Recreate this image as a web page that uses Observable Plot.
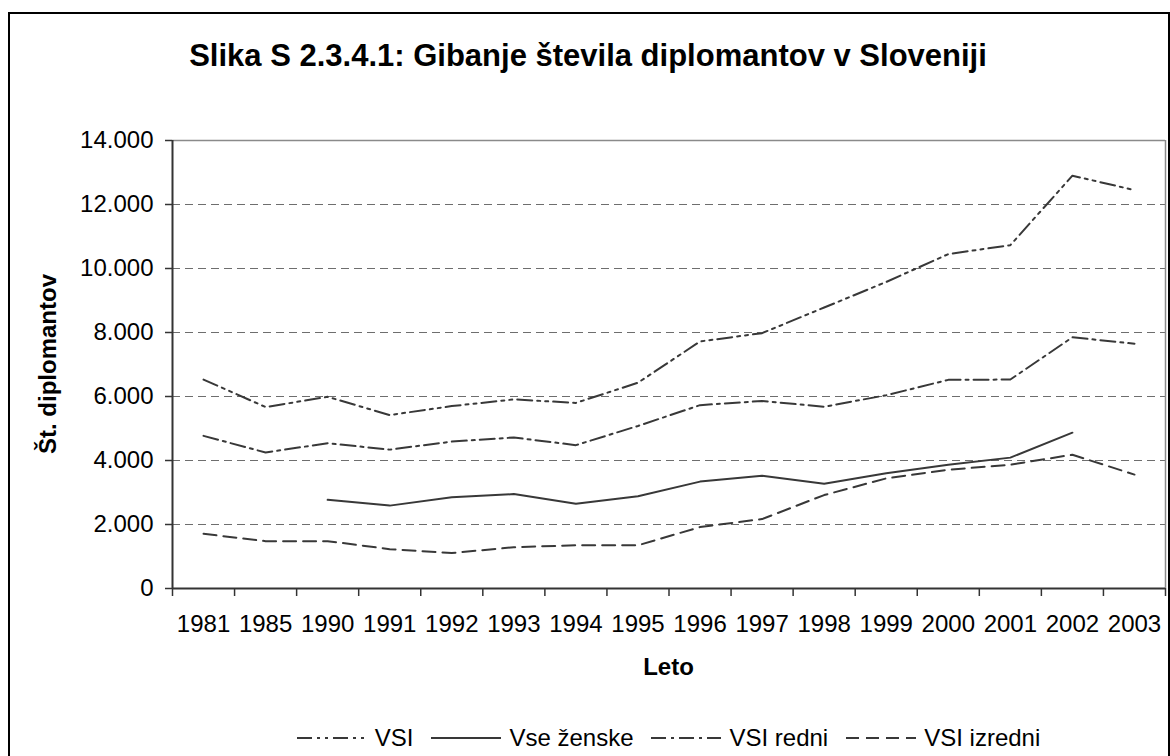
<!DOCTYPE html>
<html>
<head>
<meta charset="utf-8">
<script src="https://cdn.jsdelivr.net/npm/d3@7"></script>
<script src="https://cdn.jsdelivr.net/npm/@observablehq/plot@0.6"></script>
<style>
  html, body { margin: 0; padding: 0; background: #fff; }
  #wrap { position: relative; width: 1170px; height: 756px; overflow: hidden; background: #fff;
          font-family: "Liberation Sans", Arial, sans-serif; color: #000; }
  #frame { position: absolute; left: 8px; top: 12px; width: 1158px; height: 800px; border: 2px solid #000; }
  #title { position: absolute; left: 8px; width: 1160px; top: 40px; text-align: center;
           font-size: 31px; font-weight: bold; line-height: 31px; white-space: nowrap; }
  #chart { position: absolute; left: 0; top: 0; }
  #xtitle { position: absolute; left: 172px; width: 993px; top: 655px; text-align: center;
            font-size: 24px; font-weight: bold; line-height: 24px; }
  #ytitle { position: absolute; left: 48px; top: 364px; transform: translate(-50%, -50%) rotate(-90deg);
            font-size: 24px; font-weight: bold; line-height: 24px; white-space: nowrap; }
  #legend { position: absolute; left: 172px; width: 993px; top: 724px; display: flex; justify-content: center;
            align-items: center; font-size: 24px; line-height: 28px; white-space: nowrap; }
  .item { display: flex; align-items: center; margin: 0 9px; }
  .item svg { margin-right: 8px; }
</style>
</head>
<body>
<div id="wrap">
  <div id="frame"></div>
  <div id="title">Slika S 2.3.4.1: Gibanje števila diplomantov v Sloveniji</div>
  <div id="chart"></div>
  <div id="xtitle">Leto</div>
  <div id="ytitle">Št. diplomantov</div>
  <div id="legend"></div>
</div>
<script>
const years = ["1981","1985","1990","1991","1992","1993","1994","1995","1996","1997","1998","1999","2000","2001","2002","2003"];
const vsi     = [6530, 5670, 5990, 5420, 5700, 5910, 5800, 6430, 7720, 7980, 8780, 9580, 10450, 10730, 12900, 12450];
const zenske  = [null, null, 2770, 2590, 2850, 2950, 2650, 2880, 3340, 3520, 3270, 3600, 3870, 4090, 4870, null];
const redni   = [4770, 4250, 4540, 4340, 4590, 4720, 4480, 5080, 5730, 5860, 5680, 6040, 6520, 6530, 7850, 7650];
const izredni = [1710, 1480, 1480, 1230, 1110, 1290, 1350, 1350, 1920, 2170, 2920, 3440, 3710, 3870, 4180, 3560];
const yTicks  = [0, 2000, 4000, 6000, 8000, 10000, 12000, 14000];
const seriesNames = ["VSI", "Vse ženske", "VSI redni", "VSI izredni"];

const dashes = {
  "VSI": "15,5,3,5,3,5",
  "Vse ženske": null,
  "VSI redni": "15,5,3,5",
  "VSI izredni": "13,7"
};
const values = {"VSI": vsi, "Vse ženske": zenske, "VSI redni": redni, "VSI izredni": izredni};

const idx = d3.range(years.length);
const fmt = d3.formatLocale({decimal: ",", thousands: ".", grouping: [3], currency: ["", ""]}).format(",");
const lineColor = "#383838";

const lineMarks = seriesNames.map(name => Plot.lineY(idx, {
  x: i => i,
  y: i => values[name][i],
  stroke: lineColor,
  strokeWidth: 2,
  strokeDasharray: dashes[name] || undefined
}));

const chart = Plot.plot({
  width: 1170,
  height: 700,
  marginLeft: 172,
  marginRight: 5,
  marginTop: 140,
  marginBottom: 112,
  style: {fontFamily: "'Liberation Sans', Arial, sans-serif", fontSize: "24px", color: "#000", background: "transparent", overflow: "visible"},
  x: {type: "linear", domain: [-0.5, years.length - 0.5]},
  y: {type: "linear", domain: [0, 14000]},
  marks: [
    Plot.ruleY(yTicks.filter(d => d > 0 && d < 14000), {stroke: "#6e6e6e", strokeWidth: 1, strokeDasharray: "8,5"}),
    Plot.ruleY([14000], {stroke: "#8a8a8a", strokeWidth: 1.5}),
    Plot.ruleX([years.length - 0.5], {stroke: "#8a8a8a", strokeWidth: 1.5}),
    ...lineMarks,
    Plot.axisX({anchor: "bottom", ticks: d3.range(years.length + 1).map(k => k - 0.5), tickSize: 8, tickFormat: () => "", stroke: "#333", strokeWidth: 1.5, label: null}),
    Plot.axisX({anchor: "bottom", ticks: idx, tickSize: 0, tickPadding: 26, tickFormat: i => years[i], fontSize: 24, fill: "#000", label: null}),
    Plot.axisY({anchor: "left", ticks: yTicks, tickSize: 7, tickPadding: 12, tickFormat: fmt, fontSize: 24, stroke: "#333", strokeWidth: 1.5, fill: "#000", label: null}),
    Plot.ruleY([0], {stroke: "#333", strokeWidth: 2}),
    Plot.ruleX([-0.5], {stroke: "#333", strokeWidth: 2})
  ]
});
document.getElementById("chart").appendChild(chart);

const legend = document.getElementById("legend");
for (const name of seriesNames) {
  const item = document.createElement("div");
  item.className = "item";
  const dash = dashes[name] ? ` stroke-dasharray="${dashes[name]}"` : "";
  item.innerHTML = `<svg width="70" height="12"><line x1="0" y1="6" x2="70" y2="6" stroke="${lineColor}" stroke-width="2"${dash}/></svg><span>${name}</span>`;
  legend.appendChild(item);
}
</script>
</body>
</html>
